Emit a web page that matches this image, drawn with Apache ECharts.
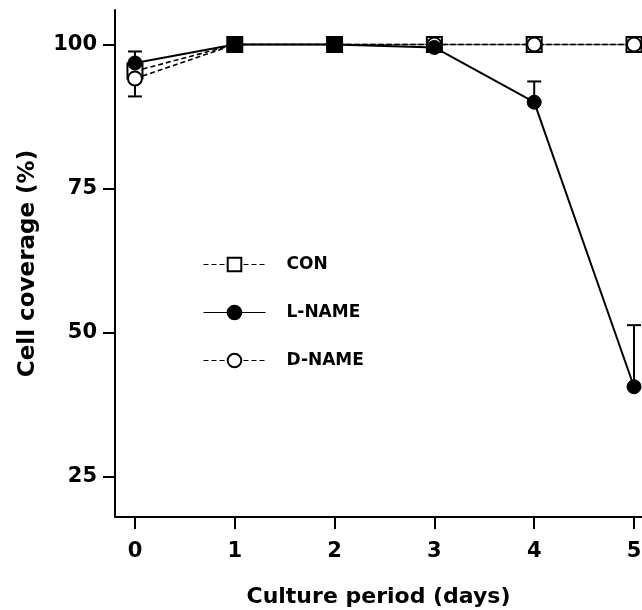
<!DOCTYPE html>
<html>
<head>
<meta charset="utf-8">
<script src="https://cdn.jsdelivr.net/npm/echarts@6/dist/echarts.min.js"></script>
<style>
  html, body { margin: 0; background: #fff; }
  #chart { width: 642px; height: 610px; }
</style>
</head>
<body>
<div id="chart"></div>
<script>
  // culture day / coverage values
  const days = [0, 1, 2, 3, 4, 5];
  const conValues = [95.4, 100, 100, 100, 100, 100];
  const lnameValues = [96.8, 100, 100, 99.5, 90.0, 40.6];
  const lnameErrUp = [2.0, 0, 0, 0, 3.6, 10.7];
  const dnameValues = [94.1, 100, 100, 100, 100, 100];
  const dnameErrDown = [3.1, 0, 0, 0, 0, 0];
  const yTicks = [25, 50, 75, 100];
  const xTicks = [0, 1, 2, 3, 4, 5];

  const FONT = 'DejaVu Sans';
  const conFilledIdx = [1, 2];   // squares that print solid black

  function pairs(vals) {
    return days.map((d, i) => [d, vals[i]]);
  }

  function errBars(vals, err, dir) {
    return days.map((d, i) => [d, vals[i], vals[i] + dir * err[i], err[i]]);
  }

  function renderErr(params, api) {
    if (!api.value(3)) return null;
    const p = api.coord([api.value(0), api.value(1)]);
    const q = api.coord([api.value(0), api.value(2)]);
    const st = { stroke: '#000', lineWidth: 2 };
    return {
      type: 'group',
      children: [
        { type: 'line', shape: { x1: p[0], y1: p[1], x2: q[0], y2: q[1] }, style: st },
        { type: 'line', shape: { x1: q[0] - 7, y1: q[1], x2: q[0] + 7, y2: q[1] }, style: st }
      ]
    };
  }

  const myChart = echarts.init(document.getElementById('chart'));

  const conData = pairs(conValues).map((v, i) => {
    if (conFilledIdx.indexOf(i) >= 0) {
      return { value: v, itemStyle: { color: '#000' } };
    }
    return v;
  });

  const option = {
    animation: false,
    grid: { left: 115, right: 0, top: 10, bottom: 93, outerBoundsMode: 'none', containLabel: false },
    legend: {
      orient: 'vertical',
      left: 203,
      top: 256,
      padding: 0,
      itemWidth: 62,
      itemHeight: 17,
      itemGap: 31,
      lineStyle: { width: 1 },
      textStyle: {
        fontFamily: FONT, fontWeight: 'bold', fontSize: 17, color: '#000',
        lineHeight: 17, padding: [0, 0, 0, 16]
      },
      data: ['CON', 'L-NAME', 'D-NAME']
    },
    xAxis: {
      type: 'value',
      min: -0.2,
      max: 5.08,
      name: 'Culture period (days)',
      nameLocation: 'middle',
      nameGap: 69,
      nameTextStyle: { fontFamily: FONT, fontWeight: 'bold', fontSize: 22, color: '#000' },
      axisLine: { show: true, onZero: false, lineStyle: { color: '#000', width: 2 } },
      axisTick: { show: true, length: 12, lineStyle: { color: '#000', width: 2 }, customValues: xTicks },
      axisLabel: { margin: 24, fontFamily: FONT, fontWeight: 'bold', fontSize: 21, color: '#000', customValues: xTicks },
      splitLine: { show: false }
    },
    yAxis: {
      type: 'value',
      min: 18,
      max: 106,
      name: 'Cell coverage (%)',
      nameLocation: 'middle',
      nameGap: 75,
      nameTextStyle: { fontFamily: FONT, fontWeight: 'bold', fontSize: 23, color: '#000' },
      axisLine: { show: true, onZero: false, lineStyle: { color: '#000', width: 2 } },
      axisTick: { show: true, length: 12, lineStyle: { color: '#000', width: 2 }, customValues: yTicks },
      axisLabel: { margin: 18, fontFamily: FONT, fontWeight: 'bold', fontSize: 21, color: '#000', customValues: yTicks },
      splitLine: { show: false }
    },
    series: [
      {
        name: 'CON',
        type: 'line',
        z: 2,
        data: conData,
        symbol: 'rect',
        symbolSize: 15,
        showAllSymbol: true,
        lineStyle: { color: '#000', width: 1.6, type: [5, 3] },
        itemStyle: { color: '#fff', borderColor: '#000', borderWidth: 2 }
      },
      {
        name: 'D-NAME',
        type: 'line',
        z: 3,
        data: pairs(dnameValues),
        symbol: 'circle',
        symbolSize: 14,
        showAllSymbol: true,
        lineStyle: { color: '#000', width: 1.6, type: [5, 3] },
        itemStyle: { color: '#fff', borderColor: '#000', borderWidth: 2 }
      },
      {
        name: 'L-NAME',
        type: 'line',
        z: 4,
        data: pairs(lnameValues),
        symbol: 'circle',
        symbolSize: 14,
        showAllSymbol: true,
        lineStyle: { color: '#000', width: 2 },
        itemStyle: { color: '#000', borderColor: '#000', borderWidth: 1 }
      },
      {
        type: 'custom',
        z: 1,
        renderItem: renderErr,
        encode: { x: 0, y: [1, 2] },
        data: errBars(lnameValues, lnameErrUp, 1)
      },
      {
        type: 'custom',
        z: 1,
        renderItem: renderErr,
        encode: { x: 0, y: [1, 2] },
        data: errBars(dnameValues, dnameErrDown, -1)
      }
    ]
  };

  myChart.setOption(option);
</script>
</body>
</html>
